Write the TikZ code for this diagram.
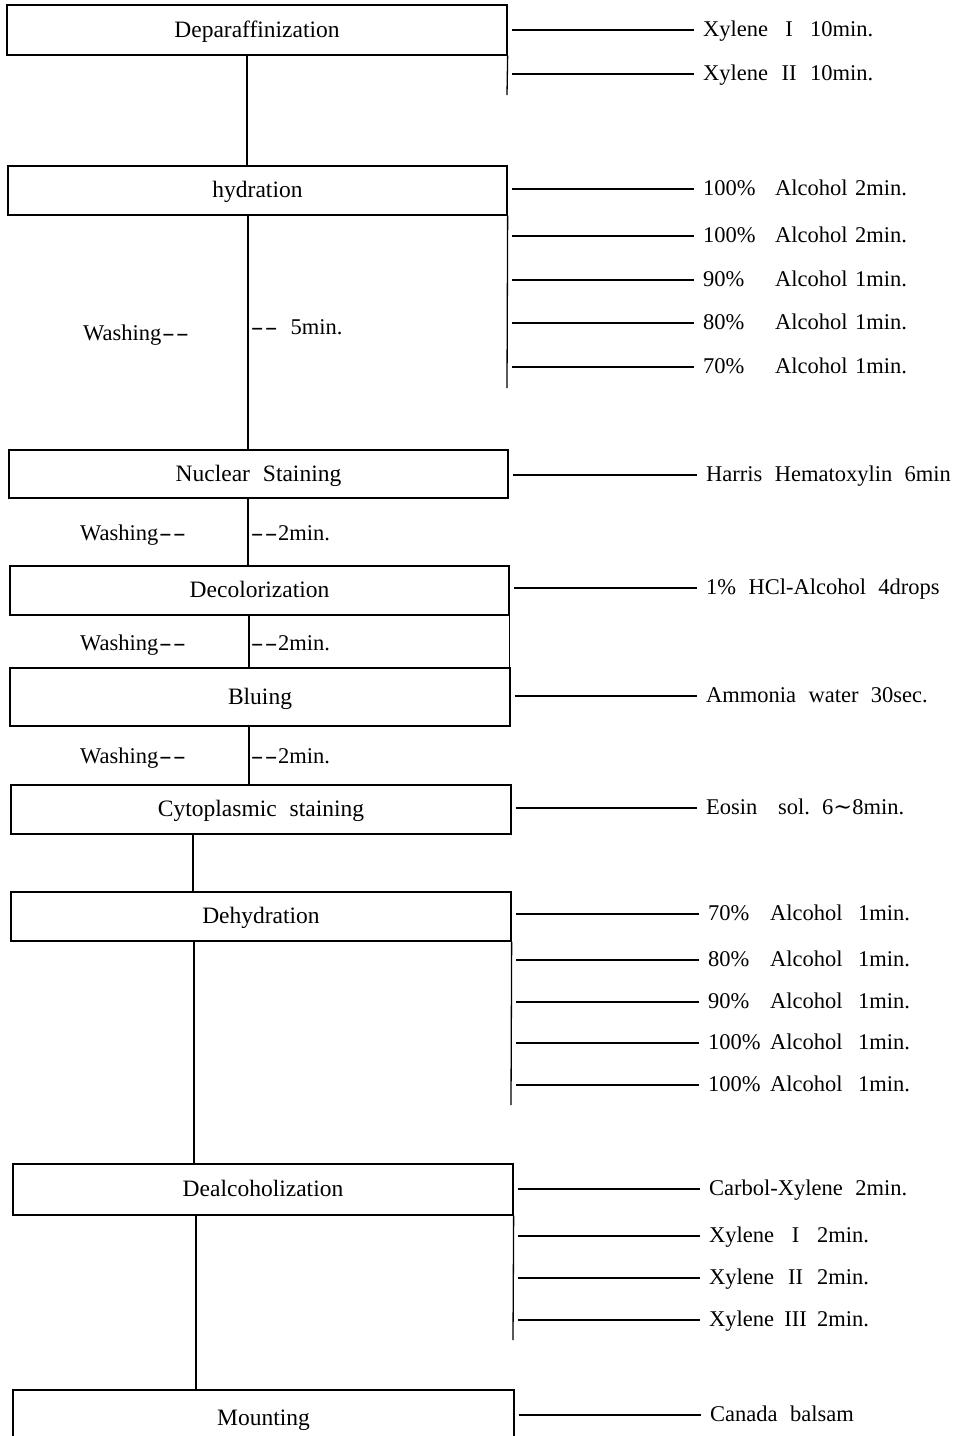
\documentclass[tikz,border=0pt]{standalone}
\usepackage{fontspec}
\usepackage{graphicx}
\setmainfont{Liberation Serif}[WordSpace=2.2]
\newfontfamily\symfnt{DejaVu Serif}
\newcommand\boxfnt{\fontsize{23.5}{27}\selectfont}
\newcommand\labfnt{\fontsize{22.5}{26}\selectfont}
\newcommand\rnum[2][42pt]{\makebox[#1]{#2}}
\newcommand\dsh{\makebox[14pt]{\scalebox{1.7}[1]{-}}}
\begin{document}
\begin{tikzpicture}[x=1pt,y=-1pt,
  ln/.style={line width=1.3pt,black},
  stepbox/.style={draw,line width=1.3pt,minimum width=500pt,minimum height=49pt,inner sep=0pt,font=\boxfnt,text height=17pt,text depth=3pt},
  lab/.style={anchor=west,inner sep=0pt,font=\labfnt,text height=15pt,text depth=3pt},
  wash/.style={anchor=west,inner sep=0pt,font=\labfnt,text height=15pt,text depth=3pt}]
\clip (0,0) rectangle (966,1436);
\fill[white] (0,0) rectangle (966,1436);

% boxes
\node[stepbox,minimum height=50pt] (dep) at (257,30) {Deparaffinization};
\node[stepbox,minimum width=499pt] (hyd) at (257.5,190.5) {hydration};
\node[stepbox,minimum width=499pt,minimum height=48pt] (nuc) at (258.5,474) {Nuclear Staining};
\node[stepbox,minimum width=499pt] (dec) at (259.5,590.5) {Decolorization};
\node[stepbox,minimum height=58pt] (blu) at (260,697) {Bluing};
\node[stepbox] (cyt) at (261,809.5) {Cytoplasmic staining};
\node[stepbox] (deh) at (261,916.5) {Dehydration};
\node[stepbox,minimum height=51pt] (dea) at (263,1189.5) {Dealcoholization};
\node[stepbox,minimum width=501pt,minimum height=80pt,text depth=0pt] (mou) at (263.5,1430) {\raisebox{13pt}{Mounting}};

% trunk connectors
\draw[ln] (247,0 |- dep.south) -- (247,0 |- hyd.north);
\draw[ln] (248,0 |- hyd.south) -- (248,0 |- nuc.north);
\draw[ln] (248,0 |- nuc.south) -- (248,0 |- dec.north);
\draw[ln] (249,0 |- dec.south) -- (249,0 |- blu.north);
\draw[ln] (249,0 |- blu.south) -- (249,0 |- cyt.north);
\draw[ln] (193,0 |- cyt.south) -- (193,0 |- deh.north);
\draw[ln] (194,0 |- deh.south) -- (194,0 |- dea.north);
\draw[ln] (196,0 |- dea.south) -- (196,0 |- mou.north);

% right bars
\coordinate (depbar) at (507,95);
\coordinate (hydbar) at (507,388);
\coordinate (dehbar) at (511,1105);
\coordinate (deabar) at (513,1340);
\draw[ln] (dep.south east) -- (depbar);
\draw[ln] (hyd.south east) -- (hydbar);
\draw[ln] (dec.south east) -- (dec.south east |- blu.north);
\draw[ln] (deh.south east) -- (dehbar);
\draw[ln] (dea.south east) -- (deabar);

% labels
\node[lab] (d1) at (703,30) {Xylene\rnum{I}10min.};
\node[lab] (d2) at (703,74) {Xylene\rnum{II}10min.};

\node[lab] (h1) at (703,189) {\makebox[72pt][l]{100\%}\makebox[80pt][l]{Alcohol}2min.};
\node[lab] (h2) at (703,236) {\makebox[72pt][l]{100\%}\makebox[80pt][l]{Alcohol}2min.};
\node[lab] (h3) at (703,280) {\makebox[72pt][l]{90\%}\makebox[80pt][l]{Alcohol}1min.};
\node[lab] (h4) at (703,323) {\makebox[72pt][l]{80\%}\makebox[80pt][l]{Alcohol}1min.};
\node[lab] (h5) at (703,367) {\makebox[72pt][l]{70\%}\makebox[80pt][l]{Alcohol}1min.};

\node[lab] (n1) at (706,475) {Harris Hematoxylin 6min};
\node[lab] (c1) at (706,588) {1\% HCl-Alcohol 4drops};
\node[lab] (b1) at (706,696) {Ammonia water 30sec.};
\node[lab] (e1) at (706,808) {\makebox[72pt][l]{Eosin}\makebox[44pt][l]{sol.}6{\symfnt ∼}8min.};

\node[lab] (k1) at (708,914) {\makebox[62pt][l]{70\%}\makebox[88pt][l]{Alcohol}1min.};
\node[lab] (k2) at (708,960) {\makebox[62pt][l]{80\%}\makebox[88pt][l]{Alcohol}1min.};
\node[lab] (k3) at (708,1002) {\makebox[62pt][l]{90\%}\makebox[88pt][l]{Alcohol}1min.};
\node[lab] (k4) at (708,1043) {\makebox[62pt][l]{100\%}\makebox[88pt][l]{Alcohol}1min.};
\node[lab] (k5) at (708,1085) {\makebox[62pt][l]{100\%}\makebox[88pt][l]{Alcohol}1min.};

\node[lab] (a1) at (709,1189) {Carbol-Xylene 2min.};
\node[lab] (a2) at (709,1236) {Xylene\rnum[43pt]{I}2min.};
\node[lab] (a3) at (709,1278) {Xylene\rnum[43pt]{II}2min.};
\node[lab] (a4) at (709,1320) {Xylene\rnum[43pt]{III}2min.};
\node[lab] (m1) at (710,1415) {Canada balsam};

% washing labels
\node[wash] (w1a) at (83,334) {Washing\dsh\dsh};
\node[wash] (w1b) at (250,328) {\dsh\dsh\ 5min.};
\node[wash] (w2a) at (80,534) {Washing\dsh\dsh};
\node[wash] (w2b) at (250,534) {\dsh\dsh2min.};
\node[wash] (w3a) at (80,644) {Washing\dsh\dsh};
\node[wash] (w3b) at (250,644) {\dsh\dsh2min.};
\node[wash] (w4a) at (80,757) {Washing\dsh\dsh};
\node[wash] (w4b) at (250,757) {\dsh\dsh2min.};

% horizontal connectors
\foreach \lb/\bx in {d1/dep,d2/dep,h1/hyd,h2/hyd,h3/hyd,h4/hyd,h5/hyd,n1/nuc,c1/dec,b1/blu,e1/cyt,k1/deh,k2/deh,k3/deh,k4/deh,k5/deh,a1/dea,a2/dea,a3/dea,a4/dea,m1/mou}
  \draw[ln] ([xshift=4pt]\bx.east |- \lb.west) -- ([xshift=-9pt]\lb.west);
\end{tikzpicture}
\end{document}
